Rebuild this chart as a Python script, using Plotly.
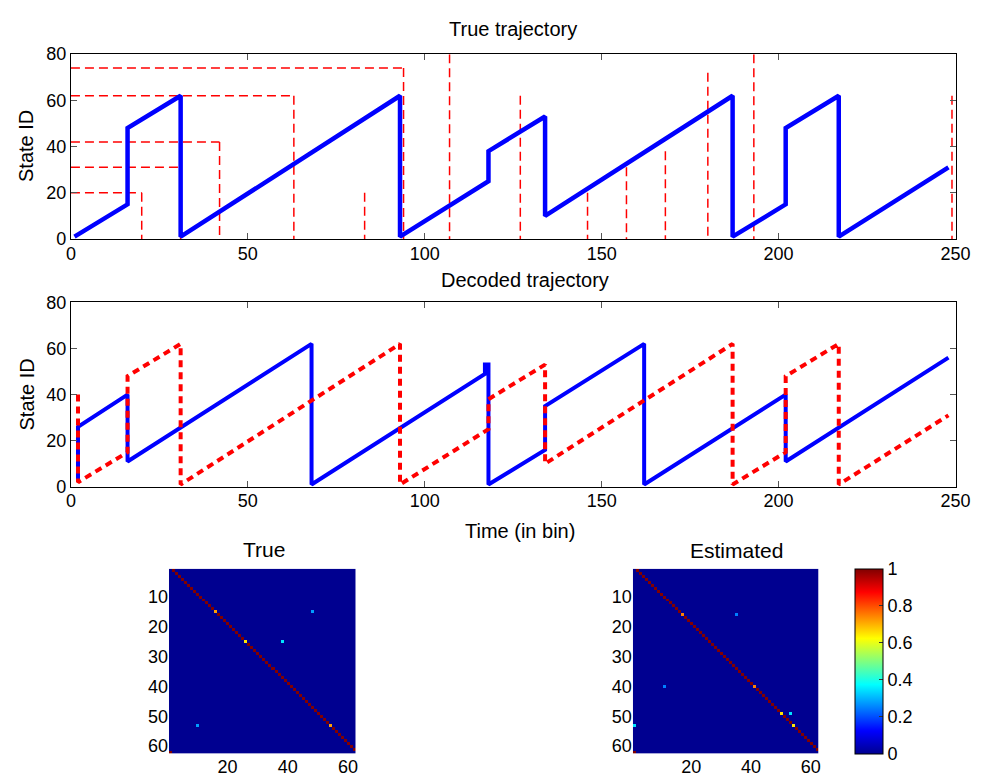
import plotly.graph_objects as go

# ---------------- data ----------------
# True state trajectory (breakpoints of the piecewise-linear path; jumps are vertical)
true_t = [1, 16, 16, 31, 31, 93, 93, 118, 118, 134, 134, 187, 187, 202, 202, 217, 217, 248]
true_state = [1, 15, 48, 62, 1, 62, 1, 25, 38, 53, 10, 62, 1, 15, 48, 62, 1, 31]

# Reference lines in the top panel: horizontal levels (from t=0 to t_end)
ref_h_level = [74, 62, 42, 31, 20]
ref_h_end = [94, 63, 42, 31, 20]
# Vertical reference lines (from 0 up to a given state)
ref_v_t = [20, 31, 42, 63, 83, 94, 107, 127, 146, 157, 168, 180, 193, 249]
ref_v_top = [20, 31, 42, 62, 20, 74, 80, 62, 20, 31, 38, 72, 80, 62]

# Decoded trajectory
dec_t = [2, 2, 16, 16, 68, 68, 117, 117, 118, 118, 134, 134, 162, 162, 202, 202, 248]
dec_state = [3, 26, 40, 11, 62, 1, 49, 53, 53, 1, 16, 35, 62, 1, 40, 11, 56]

# True trajectory as overlaid in the decoded panel
ovl_t = [2, 2, 16, 16, 31, 31, 93, 93, 118, 118, 134, 134, 187, 187, 202, 202, 217, 217, 248]
ovl_state = [40, 2, 15, 48, 62, 1, 62, 1, 25, 38, 53, 10, 62, 1, 15, 48, 62, 1, 31]

# Transition matrices (62 states, chain i -> i+1, 62 -> 1, plus branches)
n_states = 62
true_branch_row = [15, 25, 53]
true_stay_prob = [0.72, 0.65, 0.72]
true_jump_to = [48, 38, 10]
true_jump_prob = [0.28, 0.35, 0.28]

est_branch_row = [16, 40, 49, 53]
est_stay_prob = [0.75, 0.75, 0.65, 0.65]
est_jump_to = [35, 11, 53, 1]
est_jump_prob = [0.25, 0.25, 0.35, 0.35]


def transition_matrix(rows, stay, jump_to, jump):
    A = [[0.0] * n_states for _ in range(n_states)]
    for i in range(1, n_states):
        A[i - 1][i] = 1.0
    A[n_states - 1][0] = 1.0
    for r, p, j, q in zip(rows, stay, jump_to, jump):
        A[r - 1][r] = p
        A[r - 1][j - 1] = q
    return A


A_true = transition_matrix(true_branch_row, true_stay_prob, true_jump_to, true_jump_prob)
A_est = transition_matrix(est_branch_row, est_stay_prob, est_jump_to, est_jump_prob)
states = list(range(1, n_states + 1))

# ---------------- layout helpers ----------------
W, H = 996, 784


def fx(p):
    return p / W


def fy(p):
    return 1 - p / H


FONT = "Liberation Sans, Arial, Helvetica, sans-serif"
jet = [[0.0, "#000090"], [0.125, "#0000ff"], [0.375, "#00ffff"],
       [0.625, "#ffff00"], [0.875, "#ff0000"], [1.0, "#800000"]]

fig = go.Figure()

# top panel: reference lines
rx, ry = [], []
for lvl, te in zip(ref_h_level, ref_h_end):
    rx += [0, te, None]
    ry += [lvl, lvl, None]
for t, top in zip(ref_v_t, ref_v_top):
    rx += [t, t, None]
    ry += [top, 0, None]
fig.add_trace(go.Scatter(x=rx, y=ry, mode="lines", xaxis="x", yaxis="y",
                         line=dict(color="#ff0000", width=1.5, dash="9px,5px"),
                         showlegend=False, hoverinfo="skip"))
fig.add_trace(go.Scatter(x=true_t, y=true_state, mode="lines", xaxis="x", yaxis="y",
                         line=dict(color="#0000ff", width=4.5),
                         showlegend=False))

# middle panel
fig.add_trace(go.Scatter(x=dec_t, y=dec_state, mode="lines", xaxis="x2", yaxis="y2",
                         line=dict(color="#0000ff", width=4),
                         showlegend=False))
fig.add_trace(go.Scatter(x=ovl_t, y=ovl_state, mode="lines", xaxis="x2", yaxis="y2",
                         line=dict(color="#ff0000", width=4, dash="7px,5px"),
                         showlegend=False))

# transition matrices
fig.add_trace(go.Heatmap(z=A_true, x=states, y=states, xaxis="x3", yaxis="y3",
                         colorscale=jet, zmin=0, zmax=1, showscale=False))
fig.add_trace(go.Heatmap(z=A_est, x=states, y=states, xaxis="x4", yaxis="y4",
                         colorscale=jet, zmin=0, zmax=1, showscale=True,
                         colorbar=dict(x=fx(867), xanchor="left", y=fy(763), yanchor="bottom",
                                       len=190 / H, lenmode="fraction",
                                       thickness=28, thicknessmode="pixels",
                                       outlinewidth=1, outlinecolor="black",
                                       tickvals=[0, 0.2, 0.4, 0.6, 0.8, 1],
                                       ticks="inside", ticklen=4, tickcolor="#333",
                                       tickfont=dict(size=18, color="black", family=FONT),
                                       xpad=0, ypad=0)))

line_axis = dict(showline=True, linecolor="black", linewidth=1, mirror="ticks",
                 ticks="inside", ticklen=6, tickcolor="#555", showgrid=False,
                 zeroline=False, tickfont=dict(size=18, color="black", family=FONT))
hm_axis = dict(showline=False, ticks="inside", ticklen=4, tickcolor="rgba(0,0,0,0)",
               showgrid=False, zeroline=False,
               tickfont=dict(size=18, color="black", family=FONT))

fig.update_layout(
    width=W, height=H, margin=dict(l=0, r=0, t=0, b=0),
    paper_bgcolor="white", plot_bgcolor="white",
    font=dict(family=FONT, color="black"),
    xaxis=dict(line_axis, domain=[fx(67.3), fx(970)], range=[0, 250],
               tickvals=[0, 50, 100, 150, 200, 250], anchor="y", ticklabelstandoff=-2),
    yaxis=dict(line_axis, domain=[fy(235), fy(45.3)], range=[0, 80],
               tickvals=[0, 20, 40, 60, 80], anchor="x"),
    xaxis2=dict(line_axis, domain=[fx(67.3), fx(970)], range=[0, 250],
                tickvals=[0, 50, 100, 150, 200, 250], anchor="y2", ticklabelstandoff=-2),
    yaxis2=dict(line_axis, domain=[fy(489.3), fy(300)], range=[0, 80],
                tickvals=[0, 20, 40, 60, 80], anchor="x2"),
    xaxis3=dict(hm_axis, domain=[fx(167.3), fx(357.7)], range=[0.5, 62.5],
                tickvals=[20, 40, 60], anchor="y3"),
    yaxis3=dict(hm_axis, domain=[fy(763), fy(573.3)], range=[62.5, 0.5],
                tickvals=[10, 20, 30, 40, 50, 60], anchor="x3"),
    xaxis4=dict(hm_axis, domain=[fx(640.7), fx(830)], range=[0.5, 62.5],
                tickvals=[20, 40, 60], anchor="y4"),
    yaxis4=dict(hm_axis, domain=[fy(763), fy(573.3)], range=[62.5, 0.5],
                tickvals=[10, 20, 30, 40, 50, 60], anchor="x4"),
)

texts = [
    ("True trajectory", 518, 19, 20, 0),
    ("Decoded trajectory", 531, 277, 20, 0),
    ("Time (in bin)", 526, 535, 20, 0),
    ("State ID", 22, 140, 20, -90),
    ("State ID", 22, 395, 20, -90),
    ("True", 264, 554, 21, 0),
    ("Estimated", 746, 555, 21, 0),
]
for txt, x, y, size, ang in texts:
    fig.add_annotation(text=txt, x=fx(x), y=fy(y), xref="paper", yref="paper",
                       xanchor="center", yanchor="middle", showarrow=False,
                       textangle=ang, font=dict(size=size, color="black", family=FONT))

fig.write_html("out.html")
